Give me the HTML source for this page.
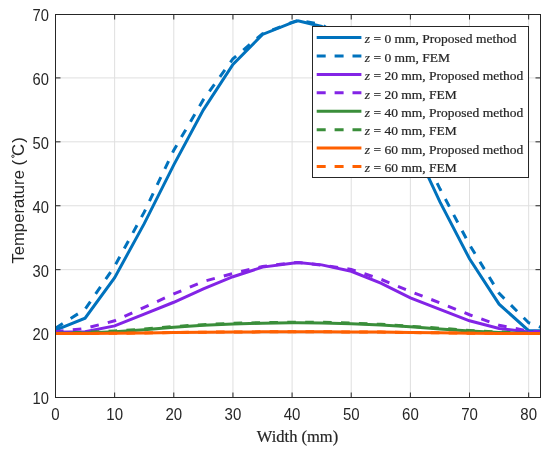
<!DOCTYPE html>
<html><head><meta charset="utf-8"><style>
html,body{margin:0;padding:0;background:#fff;}
svg{display:block;filter:blur(0.35px);}
.tk{font-family:"Liberation Sans",sans-serif;font-size:15.4px;fill:#262626;}
.xl{font-family:"Liberation Serif",serif;font-size:16.5px;fill:#262626;stroke:#262626;stroke-width:0.2px;}
.yl{font-family:"Liberation Sans",sans-serif;font-size:16.67px;fill:#262626;}
.lg{font-family:"Liberation Serif",serif;font-size:13.5px;fill:#262626;stroke:#262626;stroke-width:0.22px;}
</style></head><body>
<svg width="550" height="453" viewBox="0 0 550 453">
<defs><clipPath id="c"><rect x="55.5" y="14.5" width="485.0" height="383.0"/></clipPath></defs>
<rect width="550" height="453" fill="#fff"/>
<line x1="114.65" y1="14.5" x2="114.65" y2="397.5" stroke="#dfdfdf" stroke-width="1"/>
<line x1="173.79" y1="14.5" x2="173.79" y2="397.5" stroke="#dfdfdf" stroke-width="1"/>
<line x1="232.94" y1="14.5" x2="232.94" y2="397.5" stroke="#dfdfdf" stroke-width="1"/>
<line x1="292.09" y1="14.5" x2="292.09" y2="397.5" stroke="#dfdfdf" stroke-width="1"/>
<line x1="351.23" y1="14.5" x2="351.23" y2="397.5" stroke="#dfdfdf" stroke-width="1"/>
<line x1="410.38" y1="14.5" x2="410.38" y2="397.5" stroke="#dfdfdf" stroke-width="1"/>
<line x1="469.52" y1="14.5" x2="469.52" y2="397.5" stroke="#dfdfdf" stroke-width="1"/>
<line x1="528.67" y1="14.5" x2="528.67" y2="397.5" stroke="#dfdfdf" stroke-width="1"/>
<line x1="55.5" y1="333.58" x2="540.5" y2="333.58" stroke="#dfdfdf" stroke-width="1"/>
<line x1="55.5" y1="269.67" x2="540.5" y2="269.67" stroke="#dfdfdf" stroke-width="1"/>
<line x1="55.5" y1="205.75" x2="540.5" y2="205.75" stroke="#dfdfdf" stroke-width="1"/>
<line x1="55.5" y1="141.83" x2="540.5" y2="141.83" stroke="#dfdfdf" stroke-width="1"/>
<line x1="55.5" y1="77.92" x2="540.5" y2="77.92" stroke="#dfdfdf" stroke-width="1"/>
<line x1="55.50" y1="397.5" x2="55.50" y2="392.5" stroke="#262626"/>
<line x1="55.50" y1="14.5" x2="55.50" y2="19.5" stroke="#262626"/>
<line x1="114.65" y1="397.5" x2="114.65" y2="392.5" stroke="#262626"/>
<line x1="114.65" y1="14.5" x2="114.65" y2="19.5" stroke="#262626"/>
<line x1="173.79" y1="397.5" x2="173.79" y2="392.5" stroke="#262626"/>
<line x1="173.79" y1="14.5" x2="173.79" y2="19.5" stroke="#262626"/>
<line x1="232.94" y1="397.5" x2="232.94" y2="392.5" stroke="#262626"/>
<line x1="232.94" y1="14.5" x2="232.94" y2="19.5" stroke="#262626"/>
<line x1="292.09" y1="397.5" x2="292.09" y2="392.5" stroke="#262626"/>
<line x1="292.09" y1="14.5" x2="292.09" y2="19.5" stroke="#262626"/>
<line x1="351.23" y1="397.5" x2="351.23" y2="392.5" stroke="#262626"/>
<line x1="351.23" y1="14.5" x2="351.23" y2="19.5" stroke="#262626"/>
<line x1="410.38" y1="397.5" x2="410.38" y2="392.5" stroke="#262626"/>
<line x1="410.38" y1="14.5" x2="410.38" y2="19.5" stroke="#262626"/>
<line x1="469.52" y1="397.5" x2="469.52" y2="392.5" stroke="#262626"/>
<line x1="469.52" y1="14.5" x2="469.52" y2="19.5" stroke="#262626"/>
<line x1="528.67" y1="397.5" x2="528.67" y2="392.5" stroke="#262626"/>
<line x1="528.67" y1="14.5" x2="528.67" y2="19.5" stroke="#262626"/>
<line x1="55.5" y1="397.50" x2="60.5" y2="397.50" stroke="#262626"/>
<line x1="540.5" y1="397.50" x2="535.5" y2="397.50" stroke="#262626"/>
<line x1="55.5" y1="333.58" x2="60.5" y2="333.58" stroke="#262626"/>
<line x1="540.5" y1="333.58" x2="535.5" y2="333.58" stroke="#262626"/>
<line x1="55.5" y1="269.67" x2="60.5" y2="269.67" stroke="#262626"/>
<line x1="540.5" y1="269.67" x2="535.5" y2="269.67" stroke="#262626"/>
<line x1="55.5" y1="205.75" x2="60.5" y2="205.75" stroke="#262626"/>
<line x1="540.5" y1="205.75" x2="535.5" y2="205.75" stroke="#262626"/>
<line x1="55.5" y1="141.83" x2="60.5" y2="141.83" stroke="#262626"/>
<line x1="540.5" y1="141.83" x2="535.5" y2="141.83" stroke="#262626"/>
<line x1="55.5" y1="77.92" x2="60.5" y2="77.92" stroke="#262626"/>
<line x1="540.5" y1="77.92" x2="535.5" y2="77.92" stroke="#262626"/>
<line x1="55.5" y1="14.50" x2="60.5" y2="14.50" stroke="#262626"/>
<line x1="540.5" y1="14.50" x2="535.5" y2="14.50" stroke="#262626"/>
<g clip-path="url(#c)" fill="none" stroke-linejoin="miter" stroke-miterlimit="10">
<polyline points="55.50,330.07 85.07,318.24 114.65,277.66 144.22,223.65 173.79,164.84 203.37,109.88 232.94,64.49 262.51,34.45 292.09,22.63 298.00,20.71 321.66,26.46 351.23,50.43 380.80,88.78 410.38,138.64 439.95,201.91 469.52,258.80 499.10,304.18 528.67,330.71 540.50,330.71" stroke="#0072BD" stroke-width="3.0"/>
<polyline points="55.50,328.15 85.07,309.30 114.65,266.15 144.22,212.14 173.79,150.14 203.37,99.65 232.94,58.74 262.51,33.81 292.09,22.31 298.00,20.39 321.66,24.23 351.23,45.96 380.80,81.11 410.38,129.69 439.95,188.81 469.52,244.74 499.10,293.32 528.67,322.72 540.50,327.19" stroke="#0072BD" stroke-width="3.0" stroke-dasharray="8.6 9.3" stroke-dashoffset="-0.05"/>
<polyline points="55.50,332.31 85.07,331.67 114.65,325.91 144.22,314.09 173.79,302.26 203.37,288.84 232.94,276.70 262.51,267.11 292.09,263.27 298.00,262.51 321.66,264.87 351.23,271.26 380.80,283.09 410.38,297.79 439.95,309.30 469.52,320.80 499.10,328.47 528.67,331.99 540.50,332.31" stroke="#8324E6" stroke-width="3.0"/>
<polyline points="55.50,331.67 85.07,328.47 114.65,320.80 144.22,307.38 173.79,293.95 203.37,281.49 232.94,273.50 262.51,266.47 292.09,262.96 298.00,262.51 321.66,265.19 351.23,269.35 380.80,279.25 410.38,291.40 439.95,302.90 469.52,314.73 499.10,325.27 528.67,331.03 540.50,331.67" stroke="#8324E6" stroke-width="3.0" stroke-dasharray="8.6 9.3" stroke-dashoffset="0.5"/>
<polyline points="55.50,333.58 85.07,332.94 114.65,331.67 144.22,329.75 173.79,327.19 203.37,325.27 232.94,324.00 262.51,323.23 292.09,322.85 298.00,322.78 321.66,322.97 351.23,323.80 380.80,324.95 410.38,326.87 439.95,328.92 469.52,331.03 499.10,332.62 528.67,333.58 540.50,333.58" stroke="#3A8E3A" stroke-width="3.0"/>
<polyline points="55.50,333.39 85.07,332.31 114.65,331.03 144.22,329.11 173.79,326.55 203.37,324.63 232.94,323.36 262.51,322.59 292.09,322.21 298.00,322.14 321.66,322.33 351.23,323.16 380.80,324.32 410.38,326.23 439.95,328.28 469.52,330.39 499.10,331.99 528.67,333.39 540.50,333.39" stroke="#3A8E3A" stroke-width="3.0" stroke-dasharray="8.6 9.3" stroke-dashoffset="0.6"/>
<polyline points="55.50,333.58 85.07,333.47 114.65,333.26 144.22,332.94 173.79,332.52 203.37,332.20 232.94,331.99 262.51,331.86 292.09,331.79 298.00,331.76 321.66,331.81 351.23,331.97 380.80,332.09 410.38,332.52 439.95,332.84 469.52,333.16 499.10,333.42 528.67,333.58 540.50,333.58" stroke="#FF6000" stroke-width="3.0"/>
<polyline points="55.50,333.58 85.07,333.47 114.65,333.26 144.22,332.94 173.79,332.52 203.37,332.20 232.94,331.99 262.51,331.86 292.09,331.79 298.00,331.76 321.66,331.81 351.23,331.97 380.80,332.09 410.38,332.52 439.95,332.84 469.52,333.16 499.10,333.42 528.67,333.58 540.50,333.58" stroke="#FF6000" stroke-width="3.0" stroke-dasharray="8.6 9.3" stroke-dashoffset="0.6"/>
</g>
<rect x="55.5" y="14.5" width="485.0" height="383.0" fill="none" stroke="#262626" stroke-width="1"/>
<text transform="translate(55.50,419.7) scale(0.975,1.06)" text-anchor="middle" class="tk">0</text>
<text transform="translate(114.65,419.7) scale(0.975,1.06)" text-anchor="middle" class="tk">10</text>
<text transform="translate(173.79,419.7) scale(0.975,1.06)" text-anchor="middle" class="tk">20</text>
<text transform="translate(232.94,419.7) scale(0.975,1.06)" text-anchor="middle" class="tk">30</text>
<text transform="translate(292.09,419.7) scale(0.975,1.06)" text-anchor="middle" class="tk">40</text>
<text transform="translate(351.23,419.7) scale(0.975,1.06)" text-anchor="middle" class="tk">50</text>
<text transform="translate(410.38,419.7) scale(0.975,1.06)" text-anchor="middle" class="tk">60</text>
<text transform="translate(469.52,419.7) scale(0.975,1.06)" text-anchor="middle" class="tk">70</text>
<text transform="translate(528.67,419.7) scale(0.975,1.06)" text-anchor="middle" class="tk">80</text>
<text transform="translate(48.9,404.40) scale(0.955,1.06)" text-anchor="end" class="tk">10</text>
<text transform="translate(48.9,340.48) scale(0.955,1.06)" text-anchor="end" class="tk">20</text>
<text transform="translate(48.9,276.57) scale(0.955,1.06)" text-anchor="end" class="tk">30</text>
<text transform="translate(48.9,212.65) scale(0.955,1.06)" text-anchor="end" class="tk">40</text>
<text transform="translate(48.9,148.73) scale(0.955,1.06)" text-anchor="end" class="tk">50</text>
<text transform="translate(48.9,84.82) scale(0.955,1.06)" text-anchor="end" class="tk">60</text>
<text transform="translate(48.9,20.90) scale(0.955,1.06)" text-anchor="end" class="tk">70</text>
<text x="297.5" y="441.6" text-anchor="middle" class="xl">Width (mm)</text>
<text transform="translate(23.9,263.6) rotate(-90)" class="yl">Temperature (<tspan dx="4.0">C</tspan><tspan dx="1.1">)</tspan></text>
<circle cx="12.9" cy="156.3" r="1.2" fill="none" stroke="#262626" stroke-width="0.9"/>
<rect x="312.5" y="26.5" width="216.0" height="151.0" fill="#fff" stroke="#262626" stroke-width="1"/>
<line x1="316.7" y1="37.60" x2="361.4" y2="37.60" stroke="#0072BD" stroke-width="3.0"/>
<text x="364.8" y="43.40" class="lg"><tspan font-style="italic">z</tspan> = 0 mm, Proposed method</text>
<line x1="316.7" y1="56.01" x2="361.4" y2="56.01" stroke="#0072BD" stroke-width="3.0" stroke-dasharray="9 8.9"/>
<text x="364.8" y="61.81" class="lg"><tspan font-style="italic">z</tspan> = 0 mm, FEM</text>
<line x1="316.7" y1="74.42" x2="361.4" y2="74.42" stroke="#8324E6" stroke-width="3.0"/>
<text x="364.8" y="80.22" class="lg"><tspan font-style="italic">z</tspan> = 20 mm, Proposed method</text>
<line x1="316.7" y1="92.83" x2="361.4" y2="92.83" stroke="#8324E6" stroke-width="3.0" stroke-dasharray="9 8.9"/>
<text x="364.8" y="98.63" class="lg"><tspan font-style="italic">z</tspan> = 20 mm, FEM</text>
<line x1="316.7" y1="111.24" x2="361.4" y2="111.24" stroke="#3A8E3A" stroke-width="3.0"/>
<text x="364.8" y="117.04" class="lg"><tspan font-style="italic">z</tspan> = 40 mm, Proposed method</text>
<line x1="316.7" y1="129.65" x2="361.4" y2="129.65" stroke="#3A8E3A" stroke-width="3.0" stroke-dasharray="9 8.9"/>
<text x="364.8" y="135.45" class="lg"><tspan font-style="italic">z</tspan> = 40 mm, FEM</text>
<line x1="316.7" y1="148.06" x2="361.4" y2="148.06" stroke="#FF6000" stroke-width="3.0"/>
<text x="364.8" y="153.86" class="lg"><tspan font-style="italic">z</tspan> = 60 mm, Proposed method</text>
<line x1="316.7" y1="166.47" x2="361.4" y2="166.47" stroke="#FF6000" stroke-width="3.0" stroke-dasharray="9 8.9"/>
<text x="364.8" y="172.27" class="lg"><tspan font-style="italic">z</tspan> = 60 mm, FEM</text>
</svg>
</body></html>
